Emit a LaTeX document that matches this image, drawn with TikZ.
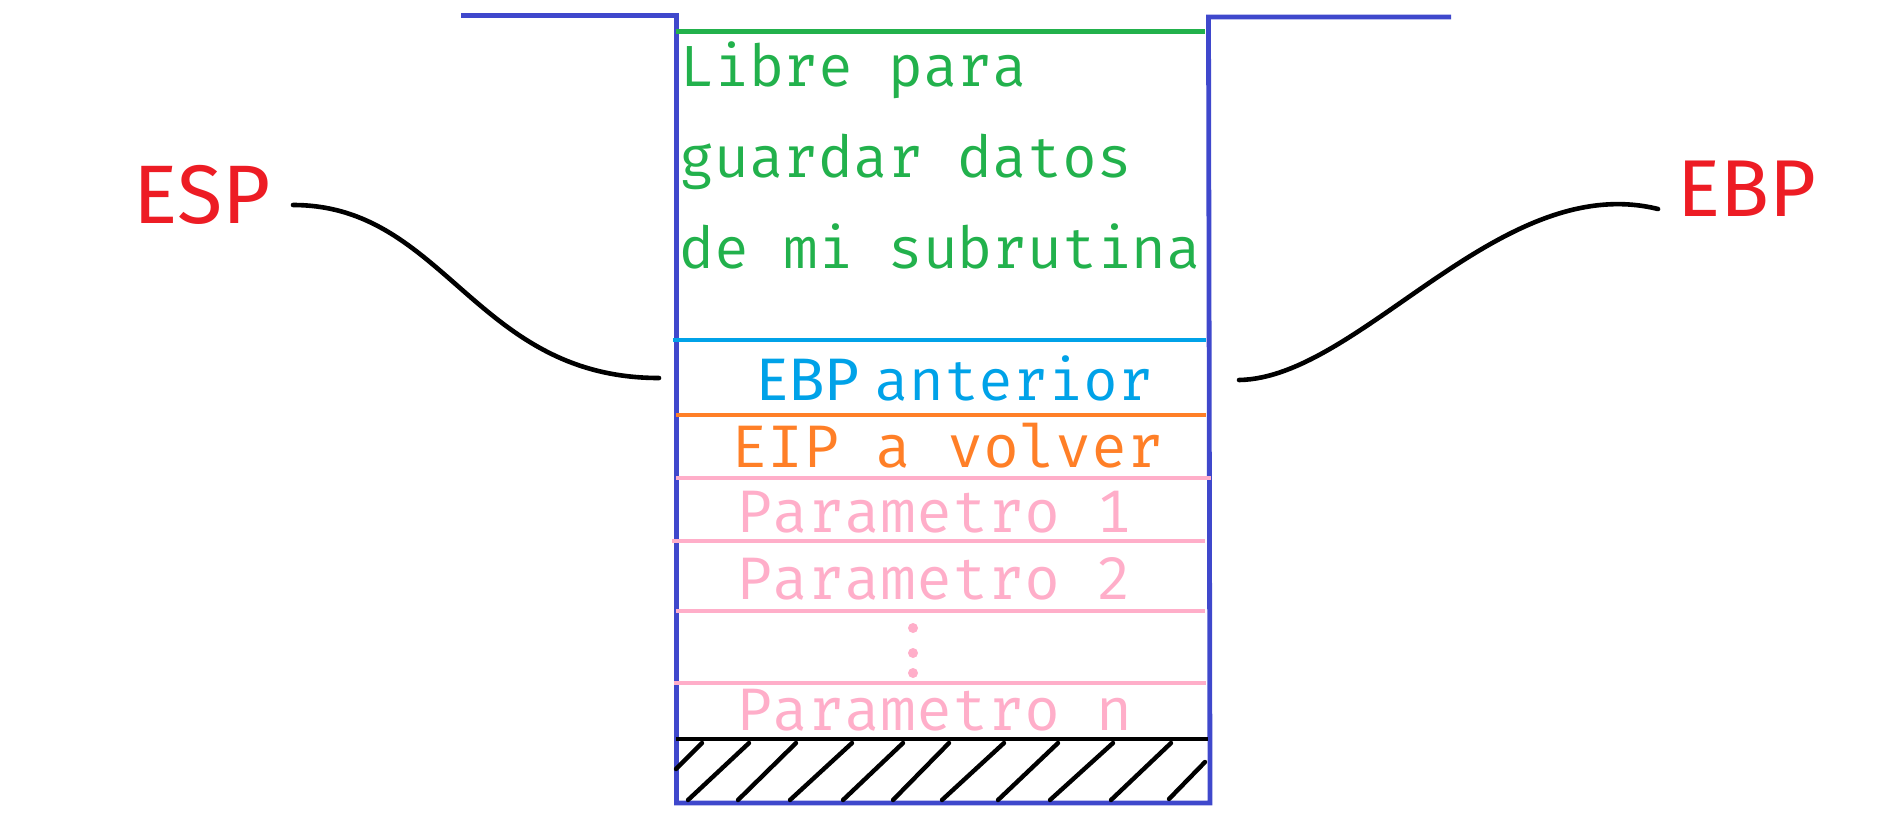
\documentclass[tikz,border=0pt]{standalone}
\usepackage{fontspec}
\newfontfamily\firamono{Fira Mono}
\newfontfamily\firasans{Fira Sans}
\definecolor{wallblue}{RGB}{63,72,204}
\definecolor{lblred}{RGB}{237,28,36}
\definecolor{freegreen}{RGB}{34,177,76}
\definecolor{ebpcyan}{RGB}{0,162,232}
\definecolor{eiporange}{RGB}{255,127,39}
\definecolor{parpink}{RGB}{255,174,201}
\begin{document}
\begin{tikzpicture}[x=0.5pt,y=-0.5pt,
  wall/.style={draw=wallblue,line width=2.4pt,line join=miter},
  sep/.style={line width=2.3pt},
  monotxt/.style={inner sep=0pt,anchor=base west,font=\firamono\fontsize{29}{34}\selectfont},
  bigmono/.style={monotxt,font=\firamono\fontsize{30}{36}\selectfont},
  reglbl/.style={inner sep=0pt,anchor=base west,text=lblred,font=\firasans\fontsize{41.5}{48}\selectfont},
  pointer/.style={draw=black,line width=2.3pt,line cap=round},
  hatch/.style={draw=black,line width=2.2pt,line cap=round}]
\useasboundingbox (0,0) rectangle (1904,820);
% stack outline
\draw[wall] (461,15.5) -- (676.5,15.5) -- (676.5,803) -- (1210,803) -- (1208.5,17) -- (1451,17);
% separators
\draw[sep,freegreen] (676,31.5) -- (1205,31.5);
\draw[sep,ebpcyan] (673,340) -- (1206,340);
\draw[sep,eiporange] (676,415) -- (1206,415);
\draw[sep,parpink] (676,478) -- (1211,478);
\draw[sep,parpink] (672,541) -- (1205,541);
\draw[sep,parpink] (676,611) -- (1205,611);
\draw[sep,parpink] (674,683) -- (1206,683);
\draw[sep,black] (676,739) -- (1208,739);
% hatch
\foreach \b/\t in {688/749,738/796,790/852,843/903,893/949,942/1004,998/1058,1050/1113,1111/1171}
  \draw[hatch] (\b,800) -- (\t,743);
\draw[hatch] (676,769) -- (702,743);
\draw[hatch] (1169,799) -- (1205,762);
% texts
\node[monotxt,text=freegreen] (l1) at (679,86) {Libre para};
\node[monotxt,text=freegreen] (l2) at (679,177) {guardar datos};
\node[monotxt,text=freegreen] (l3) at (679,268) {de mi subrutina};
\node[inner sep=0pt,anchor=base west,text=ebpcyan,font=\firasans\fontsize{30}{36}\selectfont] (ebpa) at (756,400) {EBP};
\node[monotxt,text=ebpcyan] (ant) at (874,400) {anterior};
\node[bigmono,text=eiporange] (eip) at (731,467) {EIP a volver};
\node[bigmono,text=parpink] (p1) at (736,532) {Parametro 1};
\node[bigmono,text=parpink] (p2) at (736,599) {Parametro 2};
\node[bigmono,text=parpink] (pn) at (736,730) {Parametro n};
\fill[parpink] (913,628) circle[radius=5] (913,653) circle[radius=5] (913,673) circle[radius=5];
% labels
\node[reglbl] (esp) at (133,223) {ESP};
\node[reglbl,font=\firasans\fontsize{40.3}{48}\selectfont] (ebp) at (1677,216) {EBP};
\coordinate (espA) at (293,205);
\coordinate (espB) at (659,378);
\coordinate (ebpA) at (1658,209);
\coordinate (ebpB) at (1239,380);
\draw[pointer] (espA) .. controls (445,205) and (475,378) .. (espB);
\draw[pointer] (ebpB) .. controls (1360,378) and (1500,170) .. (ebpA);
\end{tikzpicture}
\end{document}
